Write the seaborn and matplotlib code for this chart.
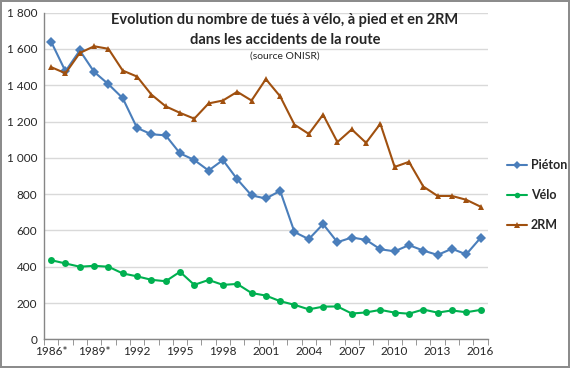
import numpy as np
import pandas as pd
import matplotlib
matplotlib.use("Agg")
import matplotlib.pyplot as plt
import seaborn as sns
from matplotlib.ticker import FuncFormatter

years = list(range(1986, 2017))
pieton = [1640, 1477, 1592, 1474, 1406, 1329, 1165, 1130, 1124, 1025, 988, 930, 988, 882, 793,
          776, 818, 591, 552, 635, 535, 561, 548, 496, 485, 519, 489, 465, 499, 468, 559]
velo = [436, 418, 400, 405, 400, 363, 347, 328, 320, 372, 300, 327, 300, 305, 255,
        241, 210, 190, 165, 180, 181, 142, 148, 162, 147, 141, 164, 147, 159, 149, 162]
deux_rm = [1500, 1466, 1578, 1615, 1601, 1481, 1448, 1349, 1284, 1248, 1216, 1300, 1316, 1364, 1316,
           1434, 1339, 1183, 1132, 1238, 1087, 1157, 1083, 1188, 950, 978, 842, 790, 790, 769, 731]
series_names = ["Piéton", "Vélo", "2RM"]
tick_years = list(range(1986, 2017, 3))
tick_labels = ["1986*", "1989*"] + [str(y) for y in tick_years[2:]]

df = pd.DataFrame({"annee": years * 3,
                   "tues": pieton + velo + deux_rm,
                   "serie": np.repeat(series_names, len(years))})

sns.set_style("white")
plt.rcParams["font.family"] = ["Lato", "DejaVu Sans"]

colors = {"Piéton": "#4A7EBB", "Vélo": "#00B050", "2RM": "#A0500F"}
marks = {"Piéton": "D", "Vélo": "o", "2RM": "^"}

fig = plt.figure(figsize=(5.7, 3.68), dpi=100)
fig.patch.set_edgecolor("#8C8C8C")
fig.patch.set_linewidth(1.5)
ax = fig.add_axes([0.0772, 0.078, 0.7784, 0.8875])

sns.lineplot(data=df, x="annee", y="tues", hue="serie", style="serie",
             palette=colors, markers=marks, dashes=False, markersize=5,
             markeredgewidth=0, linewidth=1.5, ax=ax, legend=False)

ax.set_xlim(1985.5, 2016.5)
ax.set_ylim(0, 1800)
ax.set_yticks(range(0, 1801, 200))
ax.yaxis.set_major_formatter(FuncFormatter(lambda v, p: f"{int(v):,}".replace(",", " ")))
ax.set_xticks(tick_years)
ax.set_xticklabels(tick_labels)
ax.set_xticks(np.arange(1985.5, 2017, 1), minor=True)
ax.tick_params(axis="x", which="major", length=0, labelsize=8.5, pad=5)
ax.tick_params(axis="x", which="minor", length=4, color="#868686", direction="out", bottom=True)
ax.tick_params(axis="y", length=0, labelsize=8.5, pad=5)
ax.grid(axis="y", color="#D9D9D9", linewidth=1)
ax.set_axisbelow(True)
for s in ["top", "right"]:
    ax.spines[s].set_visible(False)
for s in ["left", "bottom"]:
    ax.spines[s].set_color("#868686")
    ax.spines[s].set_linewidth(1)
ax.set_xlabel("")
ax.set_ylabel("")

fig.text(0.5, 0.945, "Evolution du nombre de tués à vélo, à pied et en 2RM",
         ha="center", va="center", fontsize=10.5, fontweight="bold")
fig.text(0.5, 0.89, "dans les accidents de la route",
         ha="center", va="center", fontsize=10.5, fontweight="bold")
fig.text(0.5, 0.847, "(source ONISR)", ha="center", va="center", fontsize=7.5)

handles = [plt.Line2D([], [], color=colors[n], marker=marks[n], markersize=4,
                      markeredgewidth=0, linewidth=1.5) for n in series_names]
leg = fig.legend(handles, series_names, loc="center left", bbox_to_anchor=(0.87, 0.47),
                 frameon=False, handlelength=1.6, handletextpad=0.3, labelspacing=1.45,
                 prop={"size": 9, "weight": "bold"})

fig.savefig("out.png", dpi=100)
